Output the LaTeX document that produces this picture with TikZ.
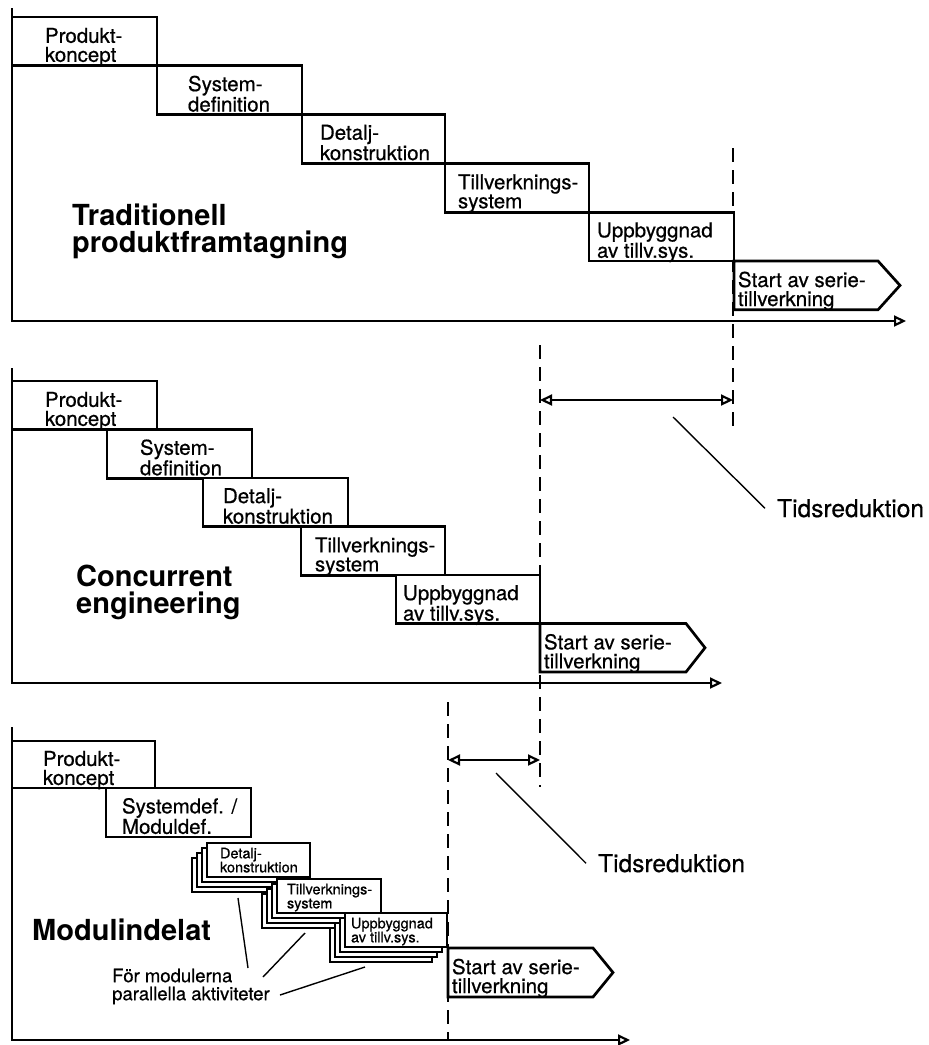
\documentclass[tikz,border=0pt]{standalone}
\usepackage{fontspec}
\setmainfont{TeX Gyre Heros}
\newfontfamily\stagefont[FakeBold=0.6]{TeX Gyre Heros}
\usetikzlibrary{arrows.meta}

% two left-aligned lines, lowered a little inside their box
\newcommand{\twoline}[3][-5.5pt]{\raisebox{#1}[\height][0.2em]{\vbox{\hbox{#2}\hbox{#3}}}}

\tikzset{
  boxline/.style={draw=black, line width=2.7pt, line join=miter},
  stage/.style={boxline, fill=white, rectangle, anchor=north west, outer sep=0pt, inner sep=0pt,
                minimum width=145pt, minimum height=48.8pt},
  lbl/.style={anchor=west, inner sep=0pt, outer sep=0pt, font=\stagefont\fontsize{20.5}{19}\selectfont},
  mstage/.style={draw=black, line width=1.9pt, fill=white, rectangle, anchor=north west, outer sep=0pt,
                 inner sep=0pt, minimum width=103pt, minimum height=34pt},
  mlbl/.style={anchor=west, inner sep=0pt, outer sep=0pt, font=\stagefont\fontsize{14.5}{14}\selectfont},
  backsheet/.style={draw=black, line width=1.7pt, fill=white},
  timeaxis/.style={line width=2.8pt, line join=miter, -{Triangle[open, length=12pt, width=11pt, line width=2.2pt]}},
  guideline/.style={line width=2.3pt, dash pattern=on 14pt off 8pt},
  gapspan/.style={line width=2.6pt, {Triangle[open, length=12pt, width=11pt, line width=2.2pt]}-{Triangle[open, length=12pt, width=11pt, line width=2.2pt]}},
  leader/.style={line width=1.4pt},
  phasetitle/.style={anchor=north west, inner sep=0pt, align=left, font=\fontsize{29}{27}\selectfont\bfseries},
  notelbl/.style={anchor=base west, inner xsep=12pt, inner ysep=0pt, font=\stagefont\fontsize{24.5}{24}\selectfont},
  smallnote/.style={anchor=north west, inner sep=0pt, align=left, font=\stagefont\fontsize{18.5}{18}\selectfont},
}

\begin{document}
\begin{tikzpicture}[x=1pt, y=-1pt]
\useasboundingbox (0,0) rectangle (929,1045);

% ---------- dashed guide lines ----------
\coordinate (g1a) at (733,148);  \coordinate (g1b) at (733,430);
\coordinate (g2a) at (540,345);  \coordinate (g2b) at (540,787);
\coordinate (g3a) at (448,702);  \coordinate (g3b) at (448,1040);
\draw[guideline] (g1a) -- (g1b);
\draw[guideline] (g2a) -- (g2b);
\draw[guideline] (g3a) -- (g3b);

% ---------- traditional development ----------
\coordinate (top1) at (12,8); \coordinate (o1) at (12,321); \coordinate (end1) at (906,321);
\draw[timeaxis] (top1) -- (o1) -- (end1);

\node[stage] (p1a) at (12,17) {};
\node[lbl] (p1a-t) at ([xshift=33pt]p1a.west) {\twoline{Produkt-}{koncept}};
\node[stage] (p1b) at (157,65.8) {};
\node[lbl] (p1b-t) at ([xshift=31pt]p1b.west) {\twoline{System-}{definition}};
\node[stage, minimum width=143pt] (p1c) at (302,114.6) {};
\node[lbl] (p1c-t) at ([xshift=18pt]p1c.west) {\twoline{Detalj-}{konstruktion}};
\node[stage, minimum width=144pt] (p1d) at (445,163.4) {};
\node[lbl] (p1d-t) at ([xshift=13pt]p1d.west) {\twoline{Tillverknings-}{system}};
\node[stage] (p1e) at (589,212.2) {};
\node[lbl] (p1e-t) at ([xshift=8pt]p1e.west) {\twoline{Uppbyggnad}{av tillv.sys.}};
\draw[boxline, fill=white] (734,261) -- (878,261) -- (900,285.4) -- (878,309.8) -- (734,309.8) -- cycle;
\node[lbl] (p1f) at (738,285.4) {\twoline{Start av serie-}{tillverkning}};

\node[phasetitle] (t1) at (72,204) {Traditionell\\produktframtagning};

% ---------- concurrent engineering ----------
\coordinate (top2) at (12,368); \coordinate (o2) at (12,683); \coordinate (end2) at (722,683);
\draw[timeaxis] (top2) -- (o2) -- (end2);

\node[stage] (p2a) at (12,381) {};
\node[lbl] (p2a-t) at ([xshift=33pt]p2a.west) {\twoline{Produkt-}{koncept}};
\node[stage] (p2b) at (107,429.5) {};
\node[lbl] (p2b-t) at ([xshift=33pt]p2b.west) {\twoline{System-}{definition}};
\node[stage] (p2c) at (203,478) {};
\node[lbl] (p2c-t) at ([xshift=20pt]p2c.west) {\twoline{Detalj-}{konstruktion}};
\node[stage, minimum width=144pt] (p2d) at (301,526.5) {};
\node[lbl] (p2d-t) at ([xshift=14pt]p2d.west) {\twoline{Tillverknings-}{system}};
\node[stage, minimum width=144pt] (p2e) at (396,575) {};
\node[lbl] (p2e-t) at ([xshift=7pt]p2e.west) {\twoline{Uppbyggnad}{av tillv.sys.}};
\draw[boxline, fill=white] (540,623.5) -- (686,623.5) -- (705,647.75) -- (686,672) -- (540,672) -- cycle;
\node[lbl] (p2f) at (544,647.75) {\twoline{Start av serie-}{tillverkning}};

\node[phasetitle] (t2) at (76,565) {Concurrent\\engineering};

\coordinate (s1a) at (540,400); \coordinate (s1b) at (733,400);
\draw[gapspan] (s1a) -- (s1b);
\node[notelbl] (n1) at (765,517) {Tidsreduktion};
\coordinate (l1) at (673,417);
\draw[leader] (l1) -- (n1.west);

% ---------- modular development ----------
\coordinate (top3) at (12,727); \coordinate (o3) at (12,1040); \coordinate (end3) at (630,1040);
\draw[timeaxis] (top3) -- (o3) -- (end3);

\node[stage, minimum width=143pt, minimum height=47pt] (p3a) at (12,741) {};
\node[lbl] (p3a-t) at ([xshift=31pt]p3a.west) {\twoline{Produkt-}{koncept}};
\node[stage, minimum height=49pt] (p3b) at (106,788) {};
\node[lbl] (p3b-t) at ([xshift=16pt]p3b.west) {\twoline{Systemdef. /}{Moduldef.}};

% parallel module activities: a stack of sheets behind each front box
\foreach \k in {3,2,1}
  \draw[backsheet] (207-5*\k,843+5*\k) rectangle ++(103,34);
\node[mstage] (m1) at (207,843) {};
\node[mlbl] (m1-t) at ([xshift=13pt]m1.west) {\twoline[-1.5pt]{Detalj-}{konstruktion}};
\foreach \k in {3,2,1}
  \draw[backsheet] (277-5*\k,879+5*\k) rectangle ++(104,34);
\node[mstage, minimum width=104pt] (m2) at (277,879) {};
\node[mlbl] (m2-t) at ([xshift=10pt]m2.west) {\twoline[-1.5pt]{Tillverknings-}{system}};
\foreach \k in {3,2,1}
  \draw[backsheet] (345-5*\k,913+5*\k) rectangle ++(102,34);
\node[mstage, minimum width=102pt] (m3) at (345,913) {};
\node[mlbl] (m3-t) at ([xshift=6pt]m3.west) {\twoline[-1.5pt]{Uppbyggnad}{av tillv.sys.}};

\draw[boxline, fill=white] (448,948) -- (593,948) -- (613,972.5) -- (593,997) -- (448,997) -- cycle;
\node[lbl] (p3f) at (452,972.5) {\twoline{Start av serie-}{tillverkning}};

\node[phasetitle] (t3) at (32,919) {Modulindelat};

\coordinate (s2a) at (448,760); \coordinate (s2b) at (540,760);
\draw[gapspan] (s2a) -- (s2b);
\node[notelbl] (n2) at (586,872) {Tidsreduktion};
\coordinate (l2) at (496,773);
\draw[leader] (l2) -- (n2.west);

\node[smallnote] (fm) at (112,968.5) {För modulerna\\parallella aktiviteter};
\coordinate (a1) at (238,898); \coordinate (b1) at (248,968);
\coordinate (a2) at (305,933); \coordinate (b2) at (263,977);
\coordinate (a3) at (365,967); \coordinate (b3) at (280,995);
\draw[leader] (a1) -- (b1);
\draw[leader] (a2) -- (b2);
\draw[leader] (a3) -- (b3);
\end{tikzpicture}
\end{document}
